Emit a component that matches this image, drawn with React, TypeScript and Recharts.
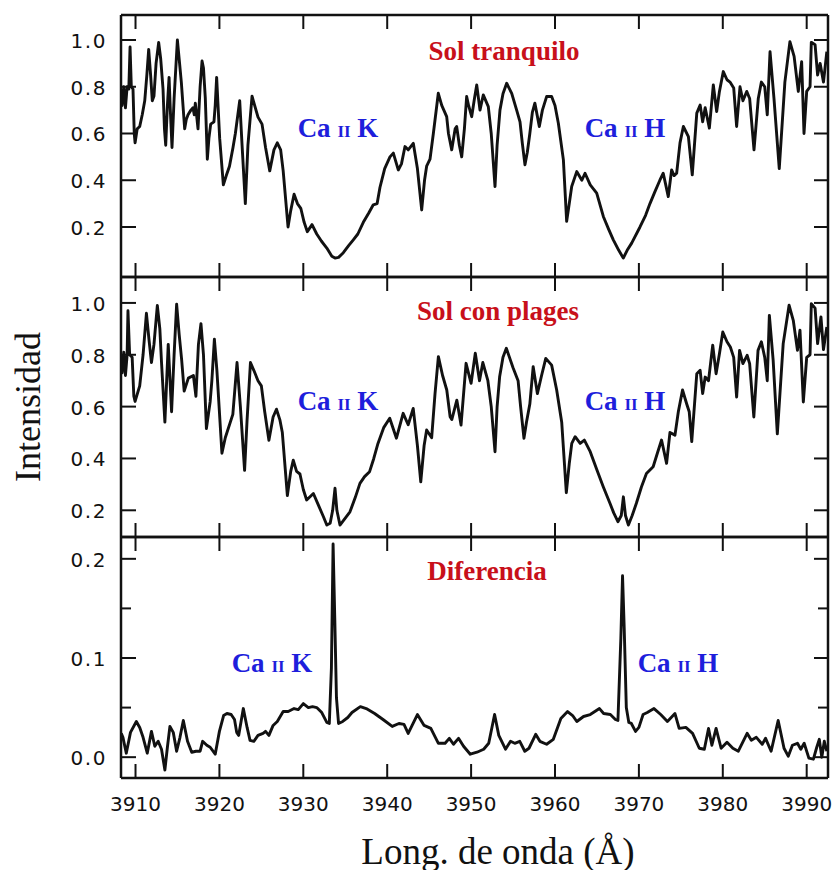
import React from 'react';
import { LineChart, Line, XAxis, YAxis } from 'recharts';

// [wavelength (Å), intensity]
const quietSun: [number, number][] = [
  [3908.3, 0.79], [3908.4, 0.72], [3908.6, 0.8], [3908.8, 0.71], [3909.0, 0.8], [3909.2, 0.79],
  [3909.35, 0.97], [3909.5, 0.8], [3909.7, 0.79], [3909.85, 0.6], [3909.95, 0.56], [3910.2, 0.62],
  [3910.5, 0.63], [3910.8, 0.68], [3911.1, 0.74], [3911.35, 0.85], [3911.57, 0.96], [3911.8, 0.85],
  [3912.0, 0.74], [3912.2, 0.76], [3912.45, 0.9], [3912.76, 0.99], [3913.0, 0.92], [3913.28, 0.79],
  [3913.45, 0.62], [3913.6, 0.55], [3913.8, 0.72], [3914.0, 0.84], [3914.15, 0.7], [3914.35, 0.54],
  [3914.6, 0.75], [3914.99, 1.0], [3915.2, 0.92], [3915.46, 0.82], [3915.86, 0.62], [3916.05, 0.66],
  [3916.26, 0.68], [3916.6, 0.7], [3916.85, 0.71], [3917.0, 0.68], [3917.13, 0.73], [3917.45, 0.62],
  [3917.7, 0.8], [3917.93, 0.91], [3918.1, 0.88], [3918.32, 0.75], [3918.56, 0.49], [3918.75, 0.58],
  [3918.96, 0.64], [3919.35, 0.65], [3919.5, 0.72], [3919.67, 0.84], [3920.03, 0.58], [3920.47, 0.38],
  [3920.82, 0.42], [3921.2, 0.46], [3921.62, 0.54], [3921.9, 0.6], [3922.42, 0.74], [3922.7, 0.55],
  [3923.09, 0.3], [3923.4, 0.55], [3923.89, 0.76], [3924.2, 0.72], [3924.6, 0.67], [3925.08, 0.64],
  [3925.5, 0.54], [3926.0, 0.44], [3926.5, 0.53], [3926.9, 0.56], [3927.3, 0.53], [3927.6, 0.44],
  [3928.18, 0.2], [3928.5, 0.27], [3928.9, 0.34], [3929.3, 0.3], [3929.7, 0.28], [3930.1, 0.22],
  [3930.48, 0.18], [3931.04, 0.21], [3931.6, 0.17], [3932.15, 0.14], [3932.8, 0.11], [3933.4, 0.075],
  [3933.78, 0.067], [3934.2, 0.07], [3934.77, 0.09], [3935.4, 0.12], [3935.96, 0.145], [3936.5, 0.17],
  [3937.15, 0.22], [3937.8, 0.26], [3938.34, 0.295], [3938.8, 0.3], [3939.14, 0.37], [3939.7, 0.45],
  [3940.33, 0.5], [3940.73, 0.516], [3941.32, 0.444], [3941.7, 0.47], [3942.12, 0.544], [3942.5, 0.53],
  [3943.11, 0.558], [3943.6, 0.45], [3944.11, 0.273], [3944.45, 0.4], [3944.7, 0.46], [3945.1, 0.49],
  [3945.5, 0.6], [3946.09, 0.772], [3946.5, 0.72], [3947.09, 0.672], [3947.3, 0.6], [3947.69, 0.53],
  [3948.1, 0.62], [3948.28, 0.63], [3948.6, 0.55], [3948.88, 0.5], [3949.2, 0.62], [3949.47, 0.758],
  [3949.7, 0.72], [3950.07, 0.672], [3950.4, 0.75], [3950.67, 0.808], [3951.06, 0.7], [3951.45, 0.765],
  [3952.05, 0.715], [3952.4, 0.6], [3952.85, 0.373], [3953.1, 0.55], [3953.44, 0.7], [3953.8, 0.77],
  [3954.24, 0.815], [3954.84, 0.772], [3955.43, 0.7], [3955.83, 0.65], [3956.1, 0.56], [3956.42, 0.466],
  [3956.7, 0.52], [3957.0, 0.6], [3957.3, 0.69], [3957.6, 0.73], [3958.13, 0.63], [3958.5, 0.7],
  [3959.0, 0.758], [3959.6, 0.758], [3960.0, 0.72], [3960.4, 0.644], [3961.0, 0.487], [3961.39, 0.224],
  [3961.7, 0.3], [3961.99, 0.373], [3962.59, 0.437], [3963.2, 0.4], [3963.58, 0.43], [3964.2, 0.38],
  [3964.97, 0.345], [3965.76, 0.245], [3966.4, 0.19], [3966.95, 0.145], [3967.6, 0.1], [3968.14, 0.067],
  [3968.6, 0.1], [3969.14, 0.131], [3970.13, 0.2], [3970.8, 0.25], [3971.32, 0.3], [3971.9, 0.35],
  [3972.5, 0.4], [3972.9, 0.43], [3973.2, 0.38], [3973.5, 0.33], [3973.9, 0.444], [3974.2, 0.42],
  [3974.5, 0.43], [3974.9, 0.56], [3975.3, 0.63], [3975.9, 0.587], [3976.36, 0.423], [3976.9, 0.687],
  [3977.3, 0.722], [3977.6, 0.65], [3977.9, 0.71], [3978.4, 0.623], [3978.87, 0.808], [3979.27, 0.694],
  [3979.6, 0.78], [3980.06, 0.865], [3980.5, 0.83], [3980.86, 0.82], [3981.3, 0.795], [3981.65, 0.63],
  [3982.05, 0.8], [3982.4, 0.74], [3982.85, 0.78], [3983.2, 0.75], [3983.72, 0.53], [3984.23, 0.75],
  [3984.6, 0.82], [3985.0, 0.8], [3985.3, 0.68], [3985.63, 0.95], [3986.1, 0.75], [3986.73, 0.45],
  [3987.4, 0.82], [3988.0, 0.993], [3988.5, 0.93], [3989.0, 0.78], [3989.4, 0.907], [3989.68, 0.6],
  [3990.0, 0.78], [3990.4, 0.8], [3990.55, 0.99], [3991.0, 0.98], [3991.3, 0.85], [3991.6, 0.9],
  [3992.0, 0.82], [3992.4, 0.95],
];

const plageSun: [number, number][] = [
  [3908.3, 0.8], [3908.4, 0.73], [3908.6, 0.81], [3908.8, 0.72], [3909.0, 0.8], [3909.1, 0.97],
  [3909.3, 0.8], [3909.6, 0.79], [3909.8, 0.64], [3909.95, 0.62], [3910.5, 0.68], [3910.9, 0.8],
  [3911.3, 0.96], [3911.6, 0.86], [3911.9, 0.77], [3912.2, 0.84], [3912.6, 0.99], [3912.9, 0.9],
  [3913.1, 0.77], [3913.5, 0.54], [3913.9, 0.84], [3914.3, 0.58], [3914.6, 0.8], [3914.9, 0.995],
  [3915.2, 0.88], [3915.5, 0.78], [3915.8, 0.66], [3916.3, 0.71], [3916.9, 0.72], [3917.2, 0.64],
  [3917.5, 0.84], [3917.8, 0.92], [3918.1, 0.8], [3918.45, 0.515], [3918.9, 0.62], [3919.1, 0.7],
  [3919.4, 0.86], [3919.7, 0.74], [3920.3, 0.42], [3920.7, 0.48], [3921.6, 0.57], [3922.1, 0.77],
  [3922.5, 0.6], [3923.0, 0.354], [3923.3, 0.55], [3923.7, 0.77], [3924.1, 0.74], [3924.6, 0.7],
  [3925.0, 0.68], [3925.4, 0.58], [3925.9, 0.47], [3926.4, 0.56], [3926.8, 0.59], [3927.2, 0.55],
  [3927.5, 0.5], [3928.1, 0.257], [3928.5, 0.35], [3928.8, 0.393], [3929.2, 0.35], [3929.6, 0.34],
  [3930.0, 0.28], [3930.4, 0.24], [3931.2, 0.265], [3931.8, 0.22], [3932.4, 0.175], [3932.8, 0.143],
  [3933.2, 0.15], [3933.5, 0.2], [3933.78, 0.285], [3934.0, 0.2], [3934.37, 0.143], [3935.0, 0.17],
  [3935.56, 0.194], [3936.2, 0.25], [3936.75, 0.304], [3937.3, 0.33], [3937.9, 0.349], [3938.4, 0.4],
  [3938.9, 0.458], [3939.6, 0.52], [3940.3, 0.555], [3941.1, 0.478], [3941.9, 0.574], [3942.5, 0.53],
  [3943.1, 0.593], [3943.6, 0.45], [3944.0, 0.31], [3944.4, 0.45], [3944.7, 0.51], [3945.3, 0.48],
  [3945.7, 0.65], [3946.1, 0.793], [3946.6, 0.72], [3947.1, 0.664], [3947.5, 0.561], [3947.7, 0.55],
  [3948.3, 0.625], [3948.8, 0.529], [3949.4, 0.767], [3950.0, 0.69], [3950.5, 0.806], [3951.0, 0.7],
  [3951.4, 0.77], [3952.0, 0.7], [3952.4, 0.6], [3952.85, 0.426], [3953.1, 0.6], [3953.4, 0.715],
  [3953.8, 0.79], [3954.2, 0.825], [3955.0, 0.75], [3955.6, 0.7], [3955.9, 0.6], [3956.3, 0.478],
  [3956.6, 0.54], [3957.0, 0.61], [3957.4, 0.754], [3957.9, 0.65], [3958.4, 0.72], [3958.9, 0.786],
  [3959.6, 0.76], [3960.2, 0.664], [3960.8, 0.54], [3961.35, 0.268], [3961.7, 0.38], [3962.0, 0.458],
  [3962.4, 0.484], [3963.0, 0.458], [3963.5, 0.471], [3964.2, 0.426], [3965.0, 0.355], [3965.75, 0.291],
  [3966.55, 0.227], [3967.0, 0.19], [3967.5, 0.156], [3967.9, 0.18], [3968.15, 0.252], [3968.4, 0.18],
  [3968.75, 0.143], [3969.2, 0.18], [3969.7, 0.227], [3970.3, 0.29], [3970.9, 0.342], [3971.7, 0.368],
  [3972.2, 0.42], [3972.7, 0.471], [3973.3, 0.381], [3973.7, 0.5], [3974.3, 0.49], [3974.7, 0.58],
  [3975.2, 0.664], [3975.7, 0.61], [3976.0, 0.58], [3976.3, 0.465], [3976.9, 0.727], [3977.3, 0.74],
  [3977.6, 0.65], [3977.9, 0.714], [3978.3, 0.7], [3978.8, 0.837], [3979.2, 0.727], [3979.6, 0.804],
  [3980.0, 0.888], [3980.5, 0.85], [3980.9, 0.83], [3981.3, 0.79], [3981.65, 0.637], [3982.0, 0.817],
  [3982.4, 0.766], [3982.9, 0.798], [3983.2, 0.766], [3983.7, 0.56], [3984.2, 0.817], [3984.6, 0.85],
  [3985.0, 0.79], [3985.3, 0.7], [3985.55, 0.952], [3986.0, 0.78], [3986.5, 0.495], [3987.2, 0.843],
  [3987.9, 0.991], [3988.4, 0.933], [3988.9, 0.817], [3989.2, 0.895], [3989.6, 0.618], [3990.0, 0.79],
  [3990.4, 0.8], [3990.55, 0.997], [3991.0, 0.98], [3991.3, 0.843], [3991.7, 0.946], [3992.0, 0.82],
  [3992.4, 0.907],
];

const difference: [number, number][] = [
  [3908.3, 0.024], [3908.5, 0.02], [3908.9, 0.004], [3909.4, 0.025], [3910.1, 0.036], [3910.5, 0.03],
  [3910.9, 0.02], [3911.4, 0.004], [3911.9, 0.026], [3912.3, 0.011], [3912.7, 0.016], [3913.1, 0.008],
  [3913.5, -0.013], [3913.8, 0.01], [3914.1, 0.031], [3914.5, 0.025], [3914.9, 0.006], [3915.3, 0.02],
  [3915.7, 0.037], [3916.2, 0.016], [3916.7, 0.005], [3917.2, 0.006], [3917.7, 0.006], [3918.0, 0.016],
  [3918.5, 0.012], [3918.9, 0.01], [3919.5, 0.003], [3920.0, 0.026], [3920.5, 0.042], [3920.9, 0.044],
  [3921.4, 0.043], [3921.8, 0.038], [3922.06, 0.025], [3922.3, 0.022], [3922.85, 0.049], [3923.3, 0.03],
  [3923.65, 0.017], [3924.1, 0.016], [3924.6, 0.022], [3925.2, 0.024], [3925.5, 0.026], [3925.9, 0.022],
  [3926.4, 0.032], [3926.9, 0.036], [3927.6, 0.046], [3928.2, 0.046], [3928.9, 0.049], [3929.4, 0.048],
  [3930.0, 0.054], [3930.6, 0.05], [3931.1, 0.051], [3931.6, 0.05], [3932.2, 0.045], [3932.8, 0.035],
  [3933.1, 0.034], [3933.35, 0.09], [3933.55, 0.215], [3933.75, 0.14], [3933.95, 0.06], [3934.2, 0.034],
  [3934.7, 0.036], [3935.3, 0.04], [3935.8, 0.045], [3936.8, 0.051], [3937.5, 0.049], [3938.5, 0.044],
  [3939.5, 0.038], [3940.6, 0.031], [3941.4, 0.034], [3942.0, 0.033], [3942.5, 0.024], [3943.6, 0.043],
  [3944.4, 0.032], [3945.2, 0.029], [3946.1, 0.014], [3946.9, 0.014], [3947.4, 0.019], [3947.9, 0.013],
  [3948.5, 0.019], [3949.1, 0.011], [3949.9, 0.003], [3950.7, 0.005], [3951.5, 0.008], [3952.1, 0.014],
  [3952.8, 0.043], [3953.3, 0.022], [3954.1, 0.008], [3954.7, 0.016], [3955.2, 0.014], [3955.8, 0.016],
  [3956.4, 0.006], [3956.9, 0.009], [3957.7, 0.023], [3958.2, 0.016], [3959.0, 0.013], [3959.8, 0.018],
  [3960.7, 0.039], [3961.5, 0.046], [3962.1, 0.042], [3962.6, 0.036], [3963.4, 0.041], [3964.2, 0.043],
  [3965.3, 0.049], [3965.8, 0.044], [3966.6, 0.043], [3967.2, 0.038], [3967.5, 0.037], [3967.85, 0.12],
  [3968.05, 0.183], [3968.25, 0.13], [3968.5, 0.05], [3968.8, 0.035], [3969.1, 0.034], [3969.6, 0.026],
  [3970.0, 0.03], [3970.5, 0.043], [3971.0, 0.045], [3971.8, 0.049], [3972.6, 0.043], [3973.4, 0.036],
  [3974.3, 0.044], [3974.8, 0.029], [3975.6, 0.03], [3976.4, 0.024], [3977.2, 0.009], [3977.8, 0.008],
  [3978.3, 0.029], [3978.7, 0.012], [3979.2, 0.029], [3979.8, 0.009], [3980.5, 0.015], [3981.2, 0.009],
  [3981.85, 0.006], [3982.9, 0.024], [3983.4, 0.017], [3984.0, 0.02], [3984.7, 0.013], [3985.1, 0.019],
  [3985.76, 0.006], [3986.6, 0.037], [3987.3, 0.009], [3987.8, 0.001], [3988.3, 0.012], [3988.9, 0.014],
  [3989.3, 0.008], [3989.7, 0.014], [3990.26, -0.001], [3990.8, -0.002], [3991.2, 0.01], [3991.5, 0.018],
  [3991.8, 0.0], [3992.1, 0.016], [3992.4, 0.006],
];

const wavelengthTicks = [3910, 3920, 3930, 3940, 3950, 3960, 3970, 3980, 3990];
const intensityTicks = [0.2, 0.4, 0.6, 0.8, 1.0];
const diffTicks = [0, 0.05, 0.1, 0.15, 0.2];
const diffLabeledTicks = [0, 0.1, 0.2];

const X_DOMAIN: [number, number] = [3908.27, 3992.54];
const INK = '#111';
const RED = '#c8101a';
const BLUE = '#1e1edc';
const TICK_FONT = '"DejaVu Sans", sans-serif';
const SERIF = '"Liberation Serif", "Times New Roman", serif';

const toRows = (pts: [number, number][]) => pts.map(([w, v]) => ({ w, v }));

const AXIS_LINE = { stroke: INK, strokeWidth: 2.5 };

interface PanelProps {
  top: number;
  height: number;
  points: [number, number][];
  yDomain: [number, number];
  yTicks: number[];
  labeled: number[];
  xLabels?: boolean;
  decimals: number;
}

function Panel({ top, height, points, yDomain, yTicks, labeled, xLabels = false, decimals }: PanelProps) {
  const padT = 10;
  const padB = xLabels ? 50 : 10;

  const isMajor = (v: number) => labeled.some((l) => Math.abs(l - v) < 1e-6);

  const bottomTick = (p: any) => (
    <g>
      <line x1={p.x} x2={p.x} y1={p.y} y2={p.y - 14} stroke={INK} strokeWidth={2} />
      {xLabels && (
        <text x={p.x} y={p.y + 26} textAnchor="middle" dominantBaseline="central"
          fontFamily={TICK_FONT} fontSize={20} fill={INK}>
          {p.payload.value}
        </text>
      )}
    </g>
  );
  const topTick = (p: any) => (
    <line x1={p.x} x2={p.x} y1={p.y} y2={p.y + 14} stroke={INK} strokeWidth={2} />
  );
  const leftTick = (p: any) => {
    const major = isMajor(p.payload.value);
    return (
      <g>
        <line x1={p.x} x2={p.x + (major ? 15 : 10)} y1={p.y} y2={p.y} stroke={INK} strokeWidth={2} />
        {major && (
          <text x={p.x - 14} y={p.y + 1} textAnchor="end" dominantBaseline="central"
            fontFamily={TICK_FONT} fontSize={20} letterSpacing={1.6} fill={INK}>
            {Number(p.payload.value).toFixed(decimals)}
          </text>
        )}
      </g>
    );
  };
  const rightTick = (p: any) => {
    const major = isMajor(p.payload.value);
    return <line x1={p.x} x2={p.x - (major ? 14 : 10)} y1={p.y} y2={p.y} stroke={INK} strokeWidth={2} />;
  };

  return (
    <div style={{ position: 'absolute', left: 0, top: top - padT }}>
      <LineChart
        width={836}
        height={height + padT + padB}
        data={toRows(points)}
        margin={{ top: padT - 2, bottom: padB - 2, left: 61, right: 6 }}
      >
        <XAxis xAxisId="b" dataKey="w" type="number" domain={X_DOMAIN} allowDataOverflow
          ticks={wavelengthTicks} interval={0} orientation="bottom" height={2}
          tickSize={0} tickMargin={0} tickLine={false} axisLine={AXIS_LINE} tick={bottomTick} />
        <XAxis xAxisId="t" dataKey="w" type="number" domain={X_DOMAIN} allowDataOverflow
          ticks={wavelengthTicks} interval={0} orientation="top" height={2}
          tickSize={0} tickMargin={0} tickLine={false} axisLine={AXIS_LINE} tick={topTick} />
        <YAxis yAxisId="l" type="number" domain={yDomain} allowDataOverflow ticks={yTicks}
          interval={0} orientation="left" width={60} tickSize={0} tickMargin={0}
          tickLine={false} axisLine={AXIS_LINE} tick={leftTick} />
        <YAxis yAxisId="r" type="number" domain={yDomain} allowDataOverflow ticks={yTicks}
          interval={0} orientation="right" width={2} tickSize={0} tickMargin={0}
          tickLine={false} axisLine={AXIS_LINE} tick={rightTick} />
        <Line xAxisId="b" yAxisId="l" type="linear" dataKey="v" stroke={INK} strokeWidth={2.9}
          strokeLinejoin="round" dot={false} activeDot={false} isAnimationActive={false} />
      </LineChart>
    </div>
  );
}

function Note({ x, y, color, children }: { x: number; y: number; color: string; children: React.ReactNode }) {
  return (
    <div style={{
      position: 'absolute', left: x, top: y, transform: 'translate(-50%, -50%)',
      fontFamily: SERIF, fontWeight: 'bold', fontSize: 27, lineHeight: 1, color, whiteSpace: 'nowrap',
    }}>
      {children}
    </div>
  );
}

function CaLine({ x, y, letter }: { x: number; y: number; letter: string }) {
  return (
    <Note x={x} y={y} color={BLUE}>
      Ca <span style={{ fontSize: 17 }}>II</span> {letter}
    </Note>
  );
}

export default function App() {
  return (
    <div style={{ position: 'absolute', left: 0, top: 0, width: 836, height: 870, background: '#fff', overflow: 'hidden' }}>
      <Panel top={15} height={262} points={quietSun} yDomain={[-0.014, 1.107]}
        yTicks={intensityTicks} labeled={intensityTicks} decimals={1} />
      <Panel top={277} height={260} points={plageSun} yDomain={[0.097, 1.1]}
        yTicks={intensityTicks} labeled={intensityTicks} decimals={1} />
      <Panel top={537} height={241} points={difference} yDomain={[-0.021, 0.222]}
        yTicks={diffTicks} labeled={diffLabeledTicks} decimals={1} xLabels />

      <Note x={504} y={51} color={RED}>Sol tranquilo</Note>
      <CaLine x={338} y={128} letter="K" />
      <CaLine x={625} y={128} letter="H" />

      <Note x={498} y={311} color={RED}>Sol con plages</Note>
      <CaLine x={338} y={401} letter="K" />
      <CaLine x={625} y={401} letter="H" />

      <Note x={487} y={571} color={RED}>Diferencia</Note>
      <CaLine x={272} y={663} letter="K" />
      <CaLine x={678} y={663} letter="H" />

      <div style={{
        position: 'absolute', left: 28, top: 407, transform: 'translate(-50%, -50%) rotate(-90deg)',
        fontFamily: SERIF, fontSize: 36, lineHeight: 1, color: INK, whiteSpace: 'nowrap',
      }}>
        Intensidad
      </div>
      <div style={{
        position: 'absolute', left: 498, top: 851, transform: 'translate(-50%, -50%)',
        fontFamily: SERIF, fontSize: 37, lineHeight: 1, color: INK, whiteSpace: 'nowrap',
      }}>
        Long. de onda (Å)
      </div>
    </div>
  );
}
